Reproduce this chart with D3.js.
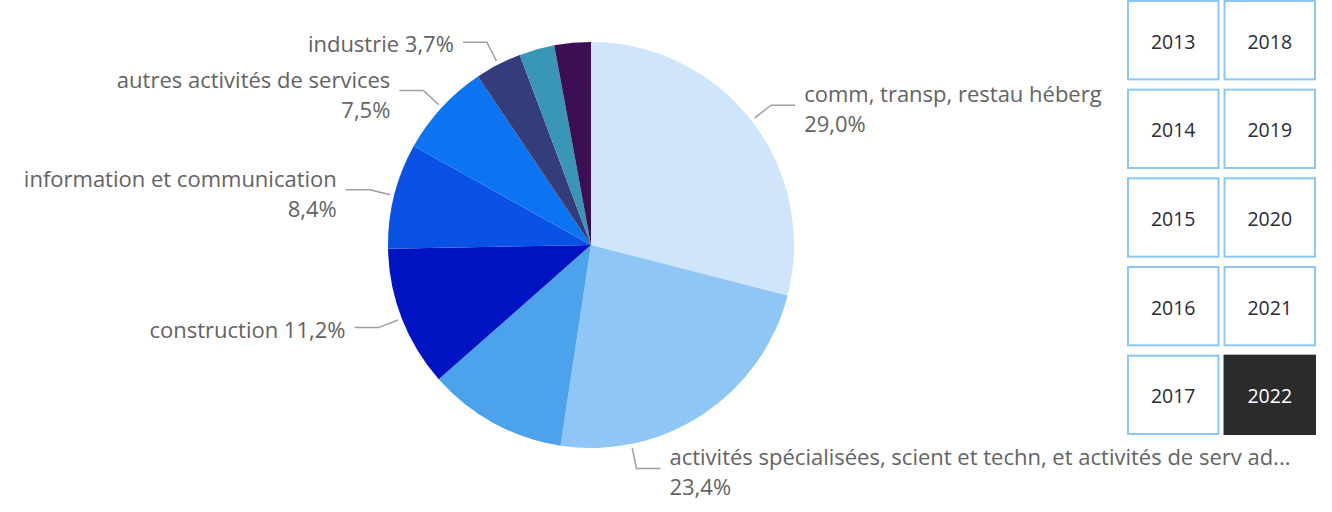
<!DOCTYPE html>
<html><head><meta charset="utf-8">
<script src="https://cdn.jsdelivr.net/npm/d3@7"></script>
<style>body{margin:0;background:#fff;}svg{display:block;}</style>
</head><body>
<svg id="c" width="1332" height="512"></svg>
<script>
// ---- data ----
const categories = [
  "comm, transp, restau héberg",
  "activités spécialisées, scient et techn, et activités de serv ad...",
  "administration publique",
  "construction",
  "information et communication",
  "autres activités de services",
  "industrie",
  "agriculture",
  "activités financières"
];
const values = [29.0, 23.4, 11.1, 11.2, 8.4, 7.5, 3.7, 2.8, 2.9];
const showLabel = [true, true, false, true, true, true, true, false, false];
const twoLine = [true, true, false, false, true, true, false, false, false];
const years = [2013, 2014, 2015, 2016, 2017, 2018, 2019, 2020, 2021, 2022];
const selectedYear = 2022;

// ---- styles / layout ----
const colors = ["#cfe5fb", "#8fc6f6", "#4da2ec", "#0014c4", "#0a52e6", "#0c74f0", "#353c7b", "#3a96b6", "#3c0f54"];
const font = "'Segoe UI','Open Sans',sans-serif";
const cx = 591, cy = 245, R = 203;
const anchorOverride = {1: 168.5}; // degrees for leader start
const svg = d3.select("#c");
const g = svg.append("g").attr("transform", `translate(${cx},${cy})`);

const pie = d3.pie().sort(null).value(d => d)(values);
const arc = d3.arc().innerRadius(0).outerRadius(R);
g.selectAll("path.slice").data(pie).join("path")
  .attr("class", "slice").attr("d", arc)
  .attr("fill", (d, i) => colors[i]);

const fmt = v => v.toFixed(1).replace(".", ",") + "%";
const toRad = a => a * Math.PI / 180;
pie.forEach((d, i) => {
  if (!showLabel[i]) return;
  const ang = anchorOverride[i] !== undefined ? toRad(anchorOverride[i]) : (d.startAngle + d.endAngle) / 2;
  const p0 = [207 * Math.sin(ang), -207 * Math.cos(ang)];
  const p1 = [228 * Math.sin(ang), -228 * Math.cos(ang)];
  const right = Math.sin(ang) > 0;
  const dir = right ? 1 : -1;
  const p2 = [p1[0] + dir * 24, p1[1]];
  g.append("polyline").attr("points", [p0, p1, p2].map(p => p.join(",")).join(" "))
    .attr("fill", "none").attr("stroke", "#a0a0a0").attr("stroke-width", 1.5);
  const tx = p2[0] + dir * 9;
  const t = g.append("text").attr("font-family", font).attr("font-size", 22)
    .attr("fill", "#636363").attr("text-anchor", right ? "start" : "end");
  if (twoLine[i]) {
    t.append("tspan").attr("x", tx).attr("y", p2[1] - 12).attr("dominant-baseline", "central").text(categories[i]);
    t.append("tspan").attr("x", tx).attr("y", p2[1] + 18).attr("dominant-baseline", "central").text(fmt(values[i]));
  } else {
    t.append("tspan").attr("x", tx).attr("y", p2[1] + 1).attr("dominant-baseline", "central").text(categories[i] + " " + fmt(values[i]));
  }
});

// ---- year slicer ----
const colX = d3.scaleBand().domain([0, 1]).range([1127, 1316]).paddingInner(0.042);
const rowY = d3.scaleBand().domain(d3.range(5)).range([0, 434]).paddingInner(0.105);
const sl = svg.append("g");
years.forEach((y, i) => {
  const c = Math.floor(i / 5), r = i % 5;
  const sel = y === selectedYear;
  sl.append("rect").attr("x", colX(c) + 1).attr("y", rowY(r) + 1)
    .attr("width", colX.bandwidth() - 2).attr("height", rowY.bandwidth() - 1)
    .attr("fill", sel ? "#2b2b2b" : "#fff")
    .attr("stroke", sel ? "#2b2b2b" : "#8cc6f7").attr("stroke-width", 2);
  sl.append("text").attr("x", colX(c) + colX.bandwidth() / 2).attr("y", rowY(r) + rowY.bandwidth() / 2 + 1.5)
    .attr("text-anchor", "middle").attr("dominant-baseline", "central")
    .attr("font-family", font).attr("font-size", 19.5)
    .attr("fill", sel ? "#fff" : "#2a2a3a").text(y);
});
</script>
</body></html>
